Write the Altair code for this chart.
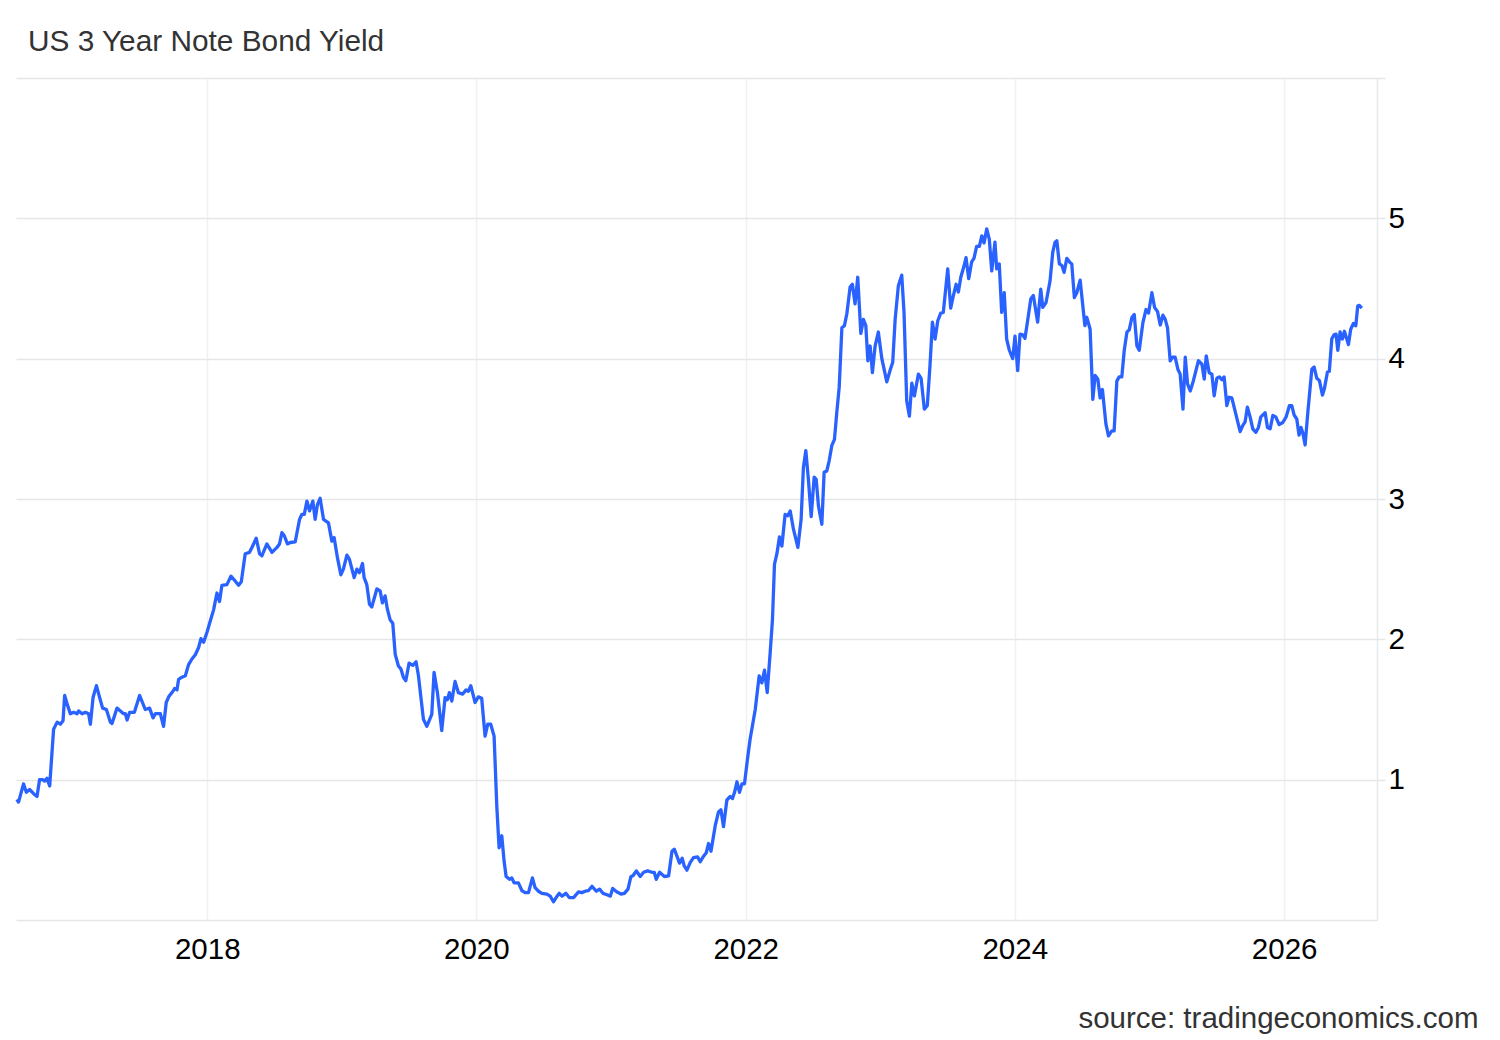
import altair as alt
import pandas as pd

TITLE = "US 3 Year Note Bond Yield"
SOURCE = "source: tradingeconomics.com"

# (decimal year, yield %), grouped by year
y2016 = [(2016.586,0.86),(2016.598,0.84),(2016.635,0.97),(2016.656,0.91),(2016.680,0.93),(2016.710,0.90),
         (2016.735,0.88),(2016.754,1.00),(2016.777,1.00),(2016.791,0.99),(2016.809,1.01),(2016.829,0.955),
         (2016.858,1.36),(2016.884,1.41),(2016.908,1.395),(2016.928,1.42),(2016.940,1.60),(2016.958,1.54),
         (2016.982,1.47)]
y2017 = [(2017.007,1.48),(2017.032,1.47),(2017.044,1.49),(2017.069,1.47),(2017.094,1.48),(2017.118,1.47),
         (2017.131,1.395),(2017.151,1.585),(2017.176,1.67),(2017.200,1.585),(2017.222,1.51),(2017.250,1.50),
         (2017.280,1.41),(2017.292,1.40),(2017.329,1.51),(2017.354,1.49),(2017.378,1.47),(2017.391,1.47),
         (2017.404,1.425),(2017.423,1.48),(2017.458,1.48),(2017.497,1.60),(2017.539,1.50),(2017.571,1.51),
         (2017.597,1.44),(2017.614,1.47),(2017.651,1.47),(2017.675,1.38),(2017.695,1.55),(2017.713,1.59),
         (2017.745,1.63),(2017.757,1.65),(2017.775,1.64),(2017.787,1.715),(2017.812,1.73),(2017.837,1.74),
         (2017.861,1.82),(2017.886,1.86),(2017.911,1.89),(2017.935,1.94),(2017.953,2.005),(2017.973,1.98),
         (2017.998,2.05)]
y2018 = [(2018.022,2.13),(2018.047,2.21),(2018.072,2.33),(2018.091,2.27),(2018.109,2.385),(2018.146,2.39),
         (2018.176,2.45),(2018.195,2.43),(2018.233,2.385),(2018.253,2.41),(2018.282,2.61),(2018.314,2.62),
         (2018.332,2.655),(2018.364,2.72),(2018.389,2.61),(2018.406,2.595),(2018.443,2.68),(2018.481,2.62),
         (2018.518,2.655),(2018.537,2.68),(2018.555,2.76),(2018.572,2.74),(2018.596,2.68),(2018.617,2.69),
         (2018.654,2.695),(2018.686,2.855),(2018.703,2.89),(2018.721,2.89),(2018.741,2.985),(2018.760,2.915),
         (2018.785,2.985),(2018.802,2.855),(2018.819,2.96),(2018.839,3.005),(2018.864,2.855),(2018.901,2.83),
         (2018.926,2.70),(2018.943,2.725),(2018.968,2.58),(2018.993,2.46)]
y2019 = [(2019.012,2.50),(2019.038,2.60),(2019.057,2.57),(2019.092,2.44),(2019.112,2.50),(2019.131,2.475),
         (2019.154,2.54),(2019.166,2.44),(2019.186,2.39),(2019.206,2.25),(2019.223,2.23),(2019.261,2.36),
         (2019.285,2.345),(2019.302,2.26),(2019.322,2.31),(2019.339,2.215),(2019.359,2.14),(2019.379,2.115),
         (2019.397,1.895),(2019.421,1.81),(2019.439,1.79),(2019.458,1.73),(2019.476,1.705),(2019.500,1.83),
         (2019.528,1.815),(2019.552,1.84),(2019.570,1.74),(2019.607,1.43),(2019.632,1.38),(2019.669,1.465),
         (2019.686,1.765),(2019.711,1.62),(2019.743,1.35),(2019.768,1.585),(2019.785,1.57),(2019.800,1.62),
         (2019.818,1.56),(2019.842,1.70),(2019.867,1.62),(2019.899,1.61),(2019.924,1.64),(2019.941,1.63),
         (2019.959,1.67),(2019.991,1.55)]
y2020 = [(2020.015,1.59),(2020.040,1.58),(2020.065,1.31),(2020.085,1.395),(2020.107,1.395),(2020.132,1.31),
         (2020.152,0.81),(2020.169,0.515),(2020.189,0.60),(2020.206,0.42),(2020.221,0.31),(2020.246,0.29),
         (2020.263,0.30),(2020.280,0.265),(2020.312,0.265),(2020.338,0.21),(2020.362,0.195),(2020.387,0.195),
         (2020.416,0.30),(2020.436,0.23),(2020.461,0.205),(2020.486,0.19),(2020.523,0.185),(2020.548,0.17),
         (2020.572,0.13),(2020.592,0.16),(2020.615,0.19),(2020.635,0.17),(2020.664,0.19),(2020.689,0.16),
         (2020.721,0.16),(2020.758,0.20),(2020.783,0.195),(2020.808,0.205),(2020.832,0.21),(2020.858,0.24),
         (2020.890,0.205),(2020.914,0.22),(2020.939,0.19),(2020.969,0.18),(2020.994,0.17)]
y2021 = [(2021.011,0.225),(2021.043,0.20),(2021.073,0.185),(2021.098,0.19),(2021.125,0.22),(2021.147,0.31),
         (2021.162,0.315),(2021.187,0.35),(2021.216,0.31),(2021.241,0.34),(2021.271,0.35),(2021.303,0.34),
         (2021.320,0.34),(2021.335,0.29),(2021.360,0.34),(2021.378,0.325),(2021.395,0.31),(2021.427,0.315),
         (2021.452,0.49),(2021.469,0.505),(2021.489,0.455),(2021.508,0.405),(2021.528,0.44),(2021.543,0.385),
         (2021.563,0.355),(2021.588,0.41),(2021.612,0.445),(2021.642,0.45),(2021.662,0.415),(2021.687,0.455),
         (2021.707,0.48),(2021.724,0.545),(2021.742,0.49),(2021.773,0.67),(2021.798,0.77),(2021.816,0.785),
         (2021.835,0.665),(2021.860,0.855),(2021.885,0.88),(2021.902,0.865),(2021.917,0.91),(2021.935,0.985),
         (2021.954,0.91),(2021.972,0.97),(2021.991,0.97)]
y2022 = [(2022.013,1.145),(2022.033,1.29),(2022.071,1.50),(2022.100,1.74),(2022.120,1.69),(2022.140,1.78),
         (2022.160,1.62),(2022.182,1.905),(2022.199,2.14),(2022.214,2.535),(2022.232,2.61),(2022.251,2.73),
         (2022.269,2.665),(2022.293,2.89),(2022.313,2.88),(2022.331,2.915),(2022.355,2.785),(2022.388,2.655),
         (2022.412,2.855),(2022.429,3.225),(2022.447,3.345),(2022.466,3.14),(2022.487,2.875),(2022.509,3.155),
         (2022.524,3.14),(2022.541,2.95),(2022.566,2.82),(2022.583,3.19),(2022.603,3.20),(2022.620,3.27),
         (2022.640,3.38),(2022.660,3.425),(2022.677,3.615),(2022.695,3.795),(2022.715,4.22),(2022.734,4.235),
         (2022.752,4.32),(2022.776,4.51),(2022.793,4.53),(2022.813,4.39),(2022.833,4.58),(2022.856,4.18),
         (2022.875,4.28),(2022.893,4.235),(2022.908,3.985),(2022.925,4.09),(2022.942,3.90),(2022.962,4.09),
         (2022.986,4.19)]
y2023 = [(2023.012,4.00),(2023.049,3.835),(2023.073,3.915),(2023.093,3.975),(2023.111,4.28),(2023.135,4.52),
         (2023.160,4.595),(2023.177,4.33),(2023.197,3.70),(2023.217,3.59),(2023.235,3.825),(2023.254,3.735),
         (2023.284,3.89),(2023.304,3.86),(2023.328,3.64),(2023.350,3.665),(2023.370,3.95),(2023.388,4.26),
         (2023.408,4.14),(2023.428,4.27),(2023.450,4.325),(2023.469,4.33),(2023.502,4.64),(2023.524,4.36),
         (2023.544,4.45),(2023.564,4.53),(2023.581,4.475),(2023.599,4.58),(2023.623,4.66),(2023.638,4.72),
         (2023.658,4.57),(2023.680,4.69),(2023.697,4.715),(2023.717,4.80),(2023.737,4.80),(2023.755,4.875),
         (2023.772,4.825),(2023.792,4.925),(2023.811,4.85),(2023.829,4.625),(2023.853,4.83),(2023.866,4.64),
         (2023.885,4.675),(2023.903,4.33),(2023.922,4.47),(2023.940,4.14),(2023.960,4.06),(2023.985,4.00)]
y2024 = [(2024.002,4.16),(2024.022,3.915),(2024.039,4.175),(2024.059,4.17),(2024.076,4.145),(2024.101,4.305),
         (2024.119,4.425),(2024.138,4.45),(2024.170,4.26),(2024.193,4.495),(2024.208,4.365),(2024.232,4.40),
         (2024.262,4.555),(2024.282,4.76),(2024.299,4.83),(2024.312,4.84),(2024.331,4.675),(2024.349,4.665),
         (2024.366,4.615),(2024.386,4.715),(2024.410,4.685),(2024.423,4.675),(2024.442,4.435),(2024.460,4.47),
         (2024.485,4.56),(2024.505,4.375),(2024.520,4.235),(2024.534,4.295),(2024.559,4.21),(2024.579,3.71),
         (2024.596,3.88),(2024.616,3.855),(2024.633,3.72),(2024.650,3.78),(2024.676,3.535),(2024.695,3.45),
         (2024.720,3.485),(2024.737,3.485),(2024.757,3.84),(2024.774,3.87),(2024.794,3.87),(2024.812,4.06),
         (2024.832,4.19),(2024.849,4.205),(2024.869,4.295),(2024.886,4.315),(2024.906,4.09),(2024.923,4.06),
         (2024.950,4.255),(2024.973,4.35),(2024.992,4.325)]
y2025 = [(2025.017,4.47),(2025.037,4.365),(2025.059,4.335),(2025.079,4.24),(2025.099,4.31),(2025.116,4.28),
         (2025.133,4.22),(2025.153,3.985),(2025.170,4.01),(2025.190,4.01),(2025.210,3.925),(2025.227,3.89),
         (2025.248,3.64),(2025.265,4.01),(2025.282,3.82),(2025.302,3.77),(2025.326,3.845),(2025.363,3.985),
         (2025.389,3.96),(2025.406,3.855),(2025.421,4.02),(2025.443,3.90),(2025.463,3.89),(2025.480,3.735),
         (2025.500,3.86),(2025.519,3.87),(2025.537,3.85),(2025.554,3.87),(2025.574,3.665),(2025.591,3.725),
         (2025.611,3.72),(2025.636,3.625),(2025.673,3.48),(2025.693,3.525),(2025.710,3.55),(2025.727,3.655),
         (2025.747,3.585),(2025.767,3.50),(2025.790,3.475),(2025.809,3.51),(2025.827,3.585),(2025.859,3.615),
         (2025.876,3.51),(2025.896,3.50),(2025.916,3.595),(2025.938,3.585),(2025.963,3.53),(2025.990,3.545)]
y2026 = [(2026.015,3.585),(2026.039,3.665),(2026.057,3.665),(2026.074,3.60),(2026.094,3.57),(2026.111,3.455),
         (2026.126,3.51),(2026.139,3.47),(2026.156,3.385),(2026.176,3.615),(2026.206,3.925),(2026.223,3.94),
         (2026.243,3.86),(2026.262,3.845),(2026.285,3.74),(2026.299,3.785),(2026.322,3.905),(2026.336,3.91),
         (2026.354,4.14),(2026.371,4.17),(2026.386,4.175),(2026.399,4.06),(2026.416,4.19),(2026.433,4.14),
         (2026.448,4.195),(2026.466,4.14),(2026.478,4.10),(2026.495,4.21),(2026.515,4.25),(2026.533,4.235),
         (2026.547,4.375),(2026.559,4.38),(2026.577,4.36)]

tick_years = [2018, 2020, 2022, 2024, 2026]
y_ticks = [1, 2, 3, 4, 5, 6]
x_start = (2016, 7, 31)
x_end = (2026, 9, 10)


def to_ts(t):
    y = int(t)
    a = pd.Timestamp(year=y, month=1, day=1)
    b = pd.Timestamp(year=y + 1, month=1, day=1)
    return (a + (b - a) * (t - y)).round("s")


points = y2016 + y2017 + y2018 + y2019 + y2020 + y2021 + y2022 + y2023 + y2024 + y2025 + y2026
df = pd.DataFrame({"date": [to_ts(t) for t, _ in points], "yield": [v for _, v in points]})

FONT = "Liberation Sans"

chart = alt.Chart(df).mark_line(color="#2962FF", strokeWidth=3.3, strokeJoin="round").encode(
    x=alt.X(
        "date:T",
        scale=alt.Scale(
            domain=[alt.DateTime(year=x_start[0], month=x_start[1], date=x_start[2]),
                    alt.DateTime(year=x_end[0], month=x_end[1], date=x_end[2])],
            nice=False,
        ),
        axis=alt.Axis(
            values=[alt.DateTime(year=y, month=1, date=1) for y in tick_years],
            format="%Y",
            title=SOURCE,
            titleX=1462,
            titleY=107,
            titleAlign="right",
            titleBaseline="alphabetic",
            titleAnchor="start",
            titleFont=FONT,
            titleFontSize=29.5,
            titleFontWeight="normal",
            titleColor="#333333",
            ticks=False,
            labelPadding=15,
            labelFont=FONT,
            labelFontSize=29.5,
            labelColor="#000000",
            labelFlush=False,
            grid=True,
            gridColor="#eef1f4",
            gridWidth=1.5,
            domain=True,
            domainColor="#e6e6e6",
            domainWidth=1.5,
        ),
    ),
    y=alt.Y(
        "yield:Q",
        scale=alt.Scale(domain=[0, 6], nice=False, zero=True),
        axis=alt.Axis(
            orient="right",
            values=y_ticks,
            labelExpr="datum.value >= 1 && datum.value <= 5 ? datum.label : ''",
            title=None,
            ticks=True,
            tickSize=8,
            tickColor="#e6e6e6",
            tickWidth=1.5,
            labelPadding=3,
            labelFont=FONT,
            labelFontSize=29.5,
            labelColor="#000000",
            grid=True,
            gridColor="#e6e6e6",
            gridWidth=1.5,
            domain=True,
            domainColor="#e6e9ec",
            domainWidth=1.5,
        ),
    ),
).properties(
    width=1361,
    height=842,
    title=alt.TitleParams(
        TITLE,
        anchor="start",
        frame="group",
        dx=12,
        offset=20,
        font=FONT,
        fontSize=29.8,
        fontWeight="normal",
        color="#333333",
    ),
    padding={"left": 8, "top": 70, "right": 110, "bottom": 114},
    autosize=alt.AutoSizeParams(type="none"),
    background="#ffffff",
).configure_view(stroke=None)

chart.save("out.html", embed_options={"renderer": "svg", "actions": False})
